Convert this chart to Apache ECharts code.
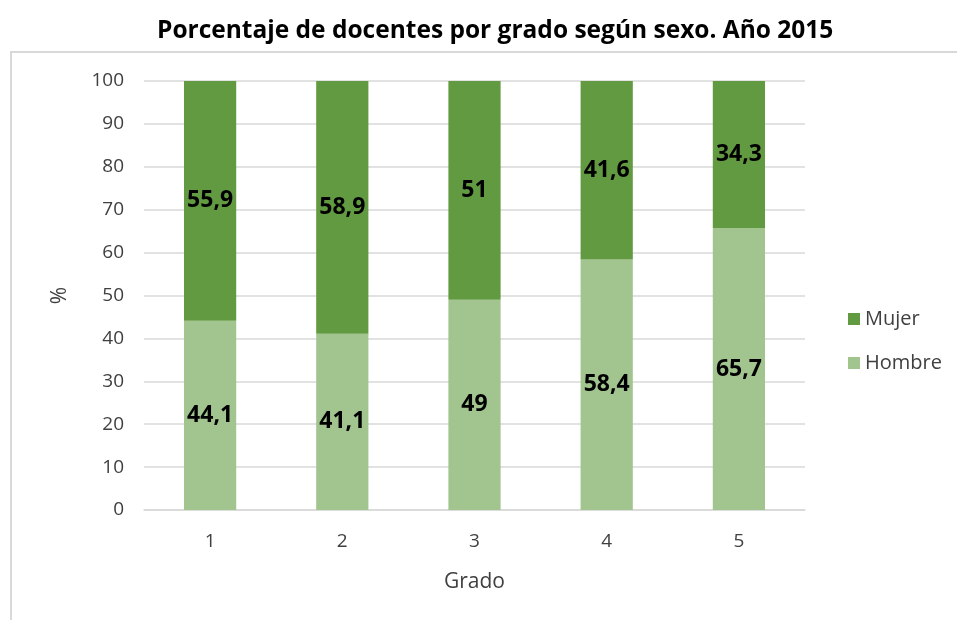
<!DOCTYPE html>
<html><head><meta charset="utf-8">
<script src="https://cdn.jsdelivr.net/npm/echarts@6/dist/echarts.min.js"></script>
<style>html,body{margin:0;padding:0;background:#fff}#c{width:957px;height:620px}</style>
</head><body><div id="c"></div>
<script>
const categories = ['1','2','3','4','5'];
const hombre = [44.1, 41.1, 49, 58.4, 65.7];
const mujer = [55.9, 58.9, 51, 41.6, 34.3];
const yTicks = {min:0, max:100, interval:10};

const FF = 'Open Sans, DejaVu Sans, sans-serif';
const chart = echarts.init(document.getElementById('c'), null, {renderer:'canvas'});
const lbl = {show:true, position:'inside', color:'#000', fontWeight:'bold', fontSize:23,
  fontFamily:FF, formatter: p => String(p.value).replace('.', ',')};
chart.setOption({
  animation:false,
  title:{text:'Porcentaje de docentes por grado según sexo. Año 2015', left:152, top:14,
    textStyle:{fontSize:24.5, fontWeight:'bold', color:'#000', fontFamily:FF}},
  graphic:[{type:'rect', shape:{x:11, y:52, width:1000, height:700}, style:{fill:'none', stroke:'#d9d9d9', lineWidth:2}, silent:true, z:-10}],
  legend:{orient:'vertical', left:843, top:304, itemWidth:12, itemHeight:12, itemGap:24, icon:'rect',
    data:['Mujer','Hombre'], textStyle:{fontSize:20, color:'#404040', fontFamily:FF}},
  grid:{left:144, top:81, width:661, height:429},
  xAxis:{type:'category', data:categories, name:'Grado', nameLocation:'middle', nameGap:62,
    nameTextStyle:{fontSize:21, color:'#404040', fontFamily:FF},
    axisLine:{lineStyle:{color:'#d9d9d9', width:1.5}}, axisTick:{show:false},
    axisLabel:{fontSize:19, color:'#404040', margin:22, fontFamily:FF}},
  yAxis:{type:'value', min:yTicks.min, max:yTicks.max, interval:yTicks.interval, name:'%', nameLocation:'middle', nameGap:73, nameRotate:90,
    nameTextStyle:{fontSize:21, color:'#404040', fontFamily:FF},
    axisLine:{show:false}, axisTick:{show:false},
    splitLine:{lineStyle:{color:'#d9d9d9', width:1.5}},
    axisLabel:{fontSize:19, color:'#404040', margin:20, fontFamily:FF}},
  series:[
    {name:'Hombre', type:'bar', stack:'t', data:hombre, barWidth:'39.5%', itemStyle:{color:'#a2c48f'}, label:lbl},
    {name:'Mujer', type:'bar', stack:'t', data:mujer, barWidth:'39.5%', itemStyle:{color:'#629a41'}, label:lbl}
  ]
});
</script></body></html>
